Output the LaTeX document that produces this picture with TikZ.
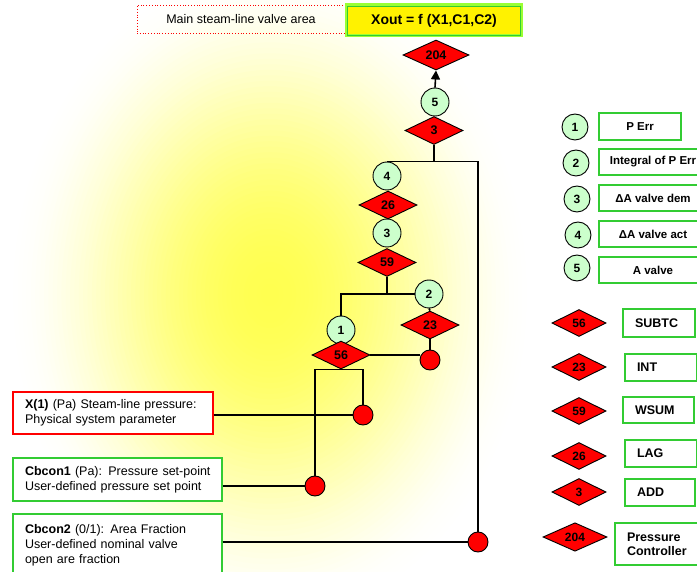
\documentclass[tikz,border=0pt]{standalone}
\usepackage{fontspec}
\setmainfont{Liberation Sans}
\usetikzlibrary{shapes.geometric,arrows.meta}
\definecolor{lgreen}{RGB}{51,204,51}
\definecolor{cgreen}{RGB}{204,255,204}
\definecolor{ygreen}{RGB}{153,255,51}
\definecolor{gy0}{RGB}{255,255,80}
\begin{document}
\begin{tikzpicture}[x=1pt,y=-1pt,
  blk/.style={diamond, draw=black, line width=0.9pt, fill=red, inner sep=0pt,
    minimum width=58pt, minimum height=28pt, font=\fontsize{12.5}{12}\bfseries\selectfont},
  lgblk/.style={blk, minimum width=54pt, minimum height=27pt, font=\fontsize{12}{12}\bfseries\selectfont},
  var/.style={circle, draw=black, line width=0.9pt, fill=cgreen, minimum size=28pt,
    inner sep=0pt, font=\fontsize{12}{12}\bfseries\selectfont},
  lgvar/.style={var, minimum size=26pt},
  pin/.style={circle, draw=black, line width=0.9pt, fill=red, minimum size=20pt, inner sep=0pt},
  wire/.style={line width=1.6pt, black},
  lgbox/.style={rectangle, draw=lgreen, line width=1.6pt, fill=white, inner sep=0pt,
    font=\fontsize{11.5}{13}\bfseries\selectfont},
  lgboxl/.style={rectangle, draw=lgreen, line width=1.6pt, fill=white, inner ysep=0pt,
    inner xsep=12pt, align=left, font=\fontsize{12.5}{14}\bfseries\selectfont},
  inbox/.style={rectangle, line width=1.3pt, fill=white, inner ysep=0pt, inner xsep=12pt,
    align=left, font=\fontsize{12.5}{15}\selectfont}
]
\useasboundingbox (0,0) rectangle (697,572);
\begin{scope}
  \clip (0,0) rectangle (697,572);
  \foreach \k in {1,...,60}{
    \pgfmathsetmacro\s{1-\k/61}
    \pgfmathsetmacro\p{100*(1-\s*\s)^2}
    \fill[gy0!\p!white] (270,295) ellipse [x radius=265*\s, y radius=335*\s];
  }
\end{scope}

% title boxes
\node[draw=red, dotted, line width=0.8pt, minimum width=208pt, minimum height=28pt,
  inner sep=0pt, font=\fontsize{12.5}{15}\selectfont] (title) at (241,19) {Main steam-line valve area};
\node[fill=yellow, draw=ygreen, line width=3pt, minimum width=175pt, minimum height=31pt,
  inner sep=0pt, font=\fontsize{14}{16}\bfseries\selectfont] (xout) at (434,20.5) {Xout = f (X1,C1,C2)};
\draw[lgreen, line width=0.8pt] ([xshift=2.5pt,yshift=-2.5pt]xout.north west) rectangle ([xshift=-2.5pt,yshift=2.5pt]xout.south east);

% tree
\node[blk, minimum width=66pt, minimum height=30pt] (d204) at (436,55) {204};
\node[var] (c5) at (435,102) {5};
\node[blk] (d3) at (434,130.5) {3};
\node[var] (c4) at (387,176) {4};
\node[blk] (d26) at (388,205) {26};
\node[var] (c3) at (387,233) {3};
\node[blk] (d59) at (387,262.5) {59};
\node[var] (c2) at (429,294) {2};
\node[blk] (d23) at (430,325) {23};
\node[var] (c1) at (341,330) {1};
\node[blk] (d56) at (341,355) {56};
\node[pin] (p4) at (430,360) {};
\node[pin] (p1) at (363,415) {};
\node[pin] (p2) at (315,486) {};
\node[pin] (p3) at (478,542) {};

% input boxes
\node[inbox, draw=red, text width=176pt, minimum height=42pt] (x1) at (113,413)
  {\mbox{\textbf{X(1)} (Pa) Steam-line pressure:}\\Physical system parameter};
\node[inbox, draw=lgreen, text width=185pt, minimum height=43pt] (cb1) at (117.5,479.5)
  {\mbox{\textbf{Cbcon1} (Pa): Pressure set-point}\\\mbox{User-defined pressure set point}};
\node[inbox, draw=lgreen, text width=185pt, minimum height=62pt] (cb2) at (117.5,545)
  {\mbox{\textbf{Cbcon2} (0/1): Area Fraction}\\User-defined nominal valve\\open are fraction};

% wires
\draw[wire, -{Triangle[length=9pt,width=9pt]}] (c5.north) -- (d204.south);
\draw[wire] (d3.south) -- (d3.south |- c4.north);
\draw[wire] (c4.north) -| (p3.north);
\draw[wire] (d59.south) -- (d59.south |- c2.west);
\draw[wire] (c1.north) |- (c2.west);
\draw[wire] (c2.south) -- (d23.north);
\draw[wire] (d23.south) -- (p4.north);
\draw[wire] (d56.east) -- (d56.east -| p4.west);
\draw[wire] (p2.north) -- (p2.north |- d56.south) -- (p1.north |- d56.south) -- (p1.north);
\draw[wire] (p1.west -| x1.east) -- (p1.west);
\draw[wire] (p2.west -| cb1.east) -- (p2.west);
\draw[wire] (p3.west -| cb2.east) -- (p3.west);

% legend: variables
\node[lgvar] (l1) at (575,127) {1};
\node[lgvar] (l2) at (576,163) {2};
\node[lgvar] (l3) at (577,199) {3};
\node[lgvar] (l4) at (578,235) {4};
\node[lgvar] (l5) at (577,268) {5};
\node[lgbox, minimum width=82pt, minimum height=27pt] (t1) at (640,126.5) {P Err};
\node[lgbox, minimum width=108pt, minimum height=26pt] (t2) at (653,162) {Integral of P Err};
\node[lgbox, minimum width=108pt, minimum height=26pt] (t3) at (653,198) {ΔA valve dem};
\node[lgbox, minimum width=108pt, minimum height=26pt] (t4) at (653,234) {ΔA valve act};
\node[lgbox, minimum width=108pt, minimum height=26pt] (t5) at (653,270) {A valve};

% legend: blocks
\node[lgblk] (b56) at (579,323) {56};
\node[lgblk] (b23) at (579,367) {23};
\node[lgblk] (b59) at (579,411) {59};
\node[lgblk] (b26) at (579,456) {26};
\node[lgblk] (b3) at (579,492) {3};
\node[lgblk, minimum width=64pt, minimum height=26pt] (b204) at (575,537) {204};
\node[lgboxl, text width=48pt, minimum height=28pt] (s56) at (659,323) {SUBTC};
\node[lgboxl, text width=48pt, minimum height=27pt] (s23) at (661,367.5) {INT};
\node[lgboxl, text width=47pt, minimum height=26pt] (s59) at (658.5,410) {WSUM};
\node[lgboxl, text width=48pt, minimum height=27pt] (s26) at (661,453.5) {LAG};
\node[lgboxl, text width=46pt, minimum height=27pt] (s3) at (660,492.5) {ADD};
\node[lgboxl, text width=62pt, minimum height=42pt] (s204) at (658,544) {Pressure\\Controller};
\end{tikzpicture}
\end{document}
